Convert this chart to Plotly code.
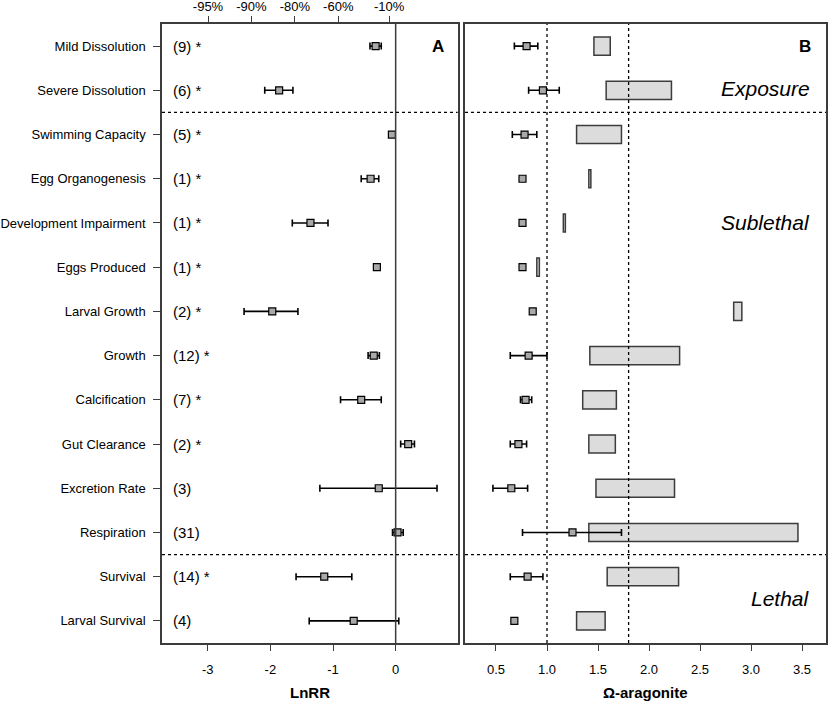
import numpy as np
import plotly.graph_objects as go

# rows, top to bottom
responses = ["Mild Dissolution", "Severe Dissolution", "Swimming Capacity", "Egg Organogenesis",
             "Development Impairment", "Eggs Produced", "Larval Growth", "Growth", "Calcification",
             "Gut Clearance", "Excretion Rate", "Respiration", "Survival", "Larval Survival"]
n_studies = ["(9) *", "(6) *", "(5) *", "(1) *", "(1) *", "(1) *", "(2) *", "(12) *", "(7) *",
             "(2) *", "(3)", "(31)", "(14) *", "(4)"]

# panel A: LnRR with 95% CI
lnrr = [-0.32, -1.86, -0.06, -0.40, -1.36, -0.30, -1.97, -0.35, -0.55, 0.20, -0.27, 0.03, -1.14, -0.67]
lnrr_lo = [-0.41, -2.09, -0.06, -0.55, -1.65, -0.30, -2.42, -0.44, -0.88, 0.08, -1.21, -0.05, -1.59, -1.38]
lnrr_hi = [-0.23, -1.64, -0.06, -0.27, -1.08, -0.30, -1.56, -0.26, -0.23, 0.30, 0.66, 0.12, -0.70, 0.05]

# panel B: treatment omega (mean +/- CI) and control omega range
om_trt = [0.80, 0.96, 0.78, 0.76, 0.76, 0.76, 0.86, 0.82, 0.79, 0.72, 0.65, 1.25, 0.81, 0.68]
om_trt_lo = [0.68, 0.82, 0.66, 0.76, 0.76, 0.76, 0.86, 0.64, 0.74, 0.64, 0.47, 0.76, 0.64, 0.68]
om_trt_hi = [0.91, 1.12, 0.90, 0.76, 0.76, 0.76, 0.86, 1.00, 0.85, 0.80, 0.81, 1.73, 0.96, 0.68]
ctrl_lo = [1.46, 1.58, 1.29, 1.41, 1.16, 0.90, 2.83, 1.42, 1.35, 1.41, 1.48, 1.41, 1.59, 1.29]
ctrl_hi = [1.62, 2.22, 1.73, 1.43, 1.18, 0.925, 2.91, 2.30, 1.68, 1.67, 2.25, 3.46, 2.29, 1.57]

pct_ticks = [-95, -90, -80, -60, -10]
lnrr_ticks = [-3, -2, -1, 0]
omega_ticks = [0.5, 1.0, 1.5, 2.0, 2.5, 3.0, 3.5]
omega_thresholds = [1.0, 1.8]
group_breaks = [2.5, 12.5]

rows = list(range(1, len(responses) + 1))
FONT = "Liberation Sans, Arial, sans-serif"
FRAME = "#3c3c3c"

fig = go.Figure()

fig.add_trace(go.Scatter(
    x=lnrr, y=rows, mode="markers", xaxis="x", yaxis="y",
    marker=dict(symbol="square", size=7, color="#a9a9a9", line=dict(color="black", width=1.2)),
    error_x=dict(type="data", symmetric=False,
                 array=[h - v for h, v in zip(lnrr_hi, lnrr)],
                 arrayminus=[v - l for v, l in zip(lnrr, lnrr_lo)],
                 color="black", thickness=1.6, width=3.5),
    showlegend=False, hoverinfo="skip"))

fig.add_trace(go.Bar(
    y=rows, x=[h - l for h, l in zip(ctrl_hi, ctrl_lo)], base=ctrl_lo, orientation="h",
    width=0.41, xaxis="x2", yaxis="y2",
    marker=dict(color="#dcdcdc", line=dict(color=FRAME, width=1.5)),
    showlegend=False, hoverinfo="skip"))

fig.add_trace(go.Scatter(
    x=om_trt, y=rows, mode="markers", xaxis="x2", yaxis="y2",
    marker=dict(symbol="square", size=7, color="#a9a9a9", line=dict(color="black", width=1.2)),
    error_x=dict(type="data", symmetric=False,
                 array=[h - v for h, v in zip(om_trt_hi, om_trt)],
                 arrayminus=[v - l for v, l in zip(om_trt, om_trt_lo)],
                 color="black", thickness=1.6, width=3.5),
    showlegend=False, hoverinfo="skip"))

# invisible trace so the top percentage axis gets drawn
fig.add_trace(go.Scatter(x=[0], y=[1], xaxis="x3", yaxis="y", mode="markers",
                         marker=dict(opacity=0), showlegend=False, hoverinfo="skip"))

# study counts inside panel A
for r, txt in zip(rows, n_studies):
    fig.add_annotation(x=-3.58, y=r, xref="x", yref="y", text=txt, showarrow=False,
                       xanchor="left", font=dict(size=15, color="black", family=FONT))

# zero line in A, thresholds in B
fig.add_shape(type="line", xref="x", yref="y domain", x0=0, x1=0, y0=0, y1=1,
              line=dict(color=FRAME, width=1.5))
for t in omega_thresholds:
    fig.add_shape(type="line", xref="x2", yref="y2 domain", x0=t, x1=t, y0=0, y1=1,
                  line=dict(color="black", width=1.3, dash="dot"))
for b in group_breaks:
    for xr, yr in [("x domain", "y"), ("x2 domain", "y2")]:
        fig.add_shape(type="line", xref=xr, yref=yr, x0=0, x1=1, y0=b, y1=b,
                      line=dict(color="black", width=1.3, dash="dot"))

fig.add_annotation(x=0.96, y=1, xref="x domain", yref="y", text="<b>A</b>", showarrow=False,
                   xanchor="right", font=dict(size=17, color="black", family=FONT))
fig.add_annotation(x=0.965, y=1, xref="x2 domain", yref="y2", text="<b>B</b>", showarrow=False,
                   xanchor="right", font=dict(size=17, color="black", family=FONT))
for lab, yy in [("Exposure", 1.97), ("Sublethal", 5), ("Lethal", 13.5)]:
    fig.add_annotation(x=0.961, y=yy, xref="x2 domain", yref="y2", text=f"<i>{lab}</i>",
                       showarrow=False, xanchor="right",
                       font=dict(size=21, color="black", family=FONT))

# axis titles below each panel
for xr, ttl in [("x domain", "<b>LnRR</b>"), ("x2 domain", "<b>Ω-aragonite</b>")]:
    fig.add_annotation(x=0.5, y=0, xref=xr, yref="paper", yshift=-49, yanchor="middle",
                       text=ttl, showarrow=False, font=dict(size=15, color="black", family=FONT))

axis_common = dict(showline=True, linecolor=FRAME, linewidth=1.5, mirror=True, showgrid=False,
                   zeroline=False, ticks="outside", ticklen=6, tickcolor=FRAME, tickwidth=1.3,
                   automargin=False, ticklabelstandoff=8,
                   tickfont=dict(size=13, color="black", family=FONT))

fig.update_layout(
    width=829, height=704,
    margin=dict(l=162, r=3, t=24, b=61),
    plot_bgcolor="white", paper_bgcolor="white",
    barmode="overlay",
    font=dict(family=FONT, color="black"),
    xaxis=dict(domain=[0, 0.4453], range=[-3.73, 0.99], tickvals=lnrr_ticks,
               ticktext=[str(v) for v in lnrr_ticks], **axis_common),
    xaxis3=dict(overlaying="x", side="top", range=[-3.73, 0.99],
                tickvals=list(np.log(1 + np.array(pct_ticks) / 100.0)),
                ticktext=[f"{p}%" for p in pct_ticks],
                showline=False, showgrid=False, zeroline=False, ticks="outside", ticklen=7,
                tickcolor=FRAME, tickwidth=1.3, automargin=False,
                tickfont=dict(size=13, color="black", family=FONT)),
    yaxis=dict(range=[14.5, 0.5], tickvals=rows, ticktext=responses,
               **{**axis_common, "ticklen": 7, "ticklabelstandoff": 5}),
    xaxis2=dict(domain=[0.4563, 1], range=[0.196, 3.735], tickvals=omega_ticks,
                ticktext=[f"{v:.1f}" for v in omega_ticks], **axis_common),
    yaxis2=dict(anchor="x2", range=[14.5, 0.5], showticklabels=False,
                **{**axis_common, "ticks": ""}),
)

# drop the default body margin so the figure sits at the page corner
fig.write_html("out.html", config={"displayModeBar": False},
               post_script="document.body.style.margin='0';")
